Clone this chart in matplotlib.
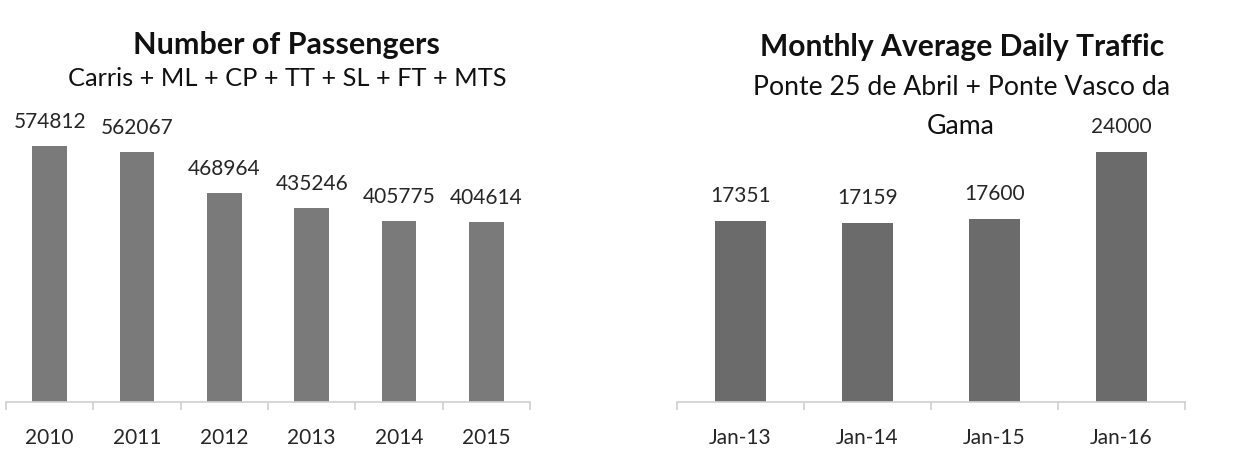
import matplotlib
matplotlib.use("Agg")
import matplotlib.pyplot as plt
import numpy as np

years = ["2010", "2011", "2012", "2013", "2014", "2015"]
passengers = [574812, 562067, 468964, 435246, 405775, 404614]

months = ["Jan-13", "Jan-14", "Jan-15", "Jan-16"]
traffic = [17351, 17159, 17600, 24000]

plt.rcParams['font.family'] = ['Lato', 'DejaVu Sans']

W, H = 1241, 456
fig = plt.figure(figsize=(W/100, H/100), dpi=100)

def px_axes(x0, x1, ybase, height):
    return fig.add_axes([x0/W, (H-ybase)/H, (x1-x0)/W, height/H])

def style(ax, cats, vals, color, ymax, label_off):
    n = len(cats)
    x = np.arange(n)
    ax.bar(x, vals, width=0.4, color=color)
    ax.set_xlim(-0.5, n-0.5)
    ax.set_ylim(0, ymax)
    for s in ['top', 'right', 'left']:
        ax.spines[s].set_visible(False)
    ax.spines['bottom'].set_color('#d0d0d0')
    ax.spines['bottom'].set_linewidth(1.2)
    ax.set_yticks([])
    ax.set_xticks(x)
    ax.set_xticklabels(cats, fontsize=15, color='#262626')
    ax.tick_params(axis='x', which='major', length=0, pad=18)
    ax.set_xticks(np.arange(n+1)-0.5, minor=True)
    ax.tick_params(axis='x', which='minor', length=6, color='#d0d0d0', width=1.2)
    for xi, v in zip(x, vals):
        ax.annotate(str(v), (xi, v), xytext=(0, label_off), textcoords='offset pixels',
                    ha='center', va='center', fontsize=15, color='#262626')

ax1 = px_axes(6, 530, 403, 700000*256/574812)
style(ax1, years, passengers, '#7a7a7a', 700000, 25)

ax2 = px_axes(677, 1185, 403, 30000*250/24000)
style(ax2, months, traffic, '#6b6b6b', 30000, 26)

fig.text(286/W, 1-45/H, "Number of Passengers", ha='center', va='center',
         fontsize=22, fontweight='bold', color='#111111')
fig.text(287/W, 1-78/H, "Carris + ML + CP + TT + SL + FT + MTS", ha='center', va='center',
         fontsize=18.3, color='#111111')
fig.text(962/W, 1-47/H, "Monthly Average Daily Traffic", ha='center', va='center',
         fontsize=21.6, fontweight='bold', color='#111111')
fig.text(962/W, 1-88/H, "Ponte 25 de Abril + Ponte Vasco da", ha='center', va='center',
         fontsize=19.2, color='#111111')
fig.text(961/W, 1-127/H, "Gama", ha='center', va='center',
         fontsize=19.2, color='#111111')

fig.savefig("out.png", dpi=100)
